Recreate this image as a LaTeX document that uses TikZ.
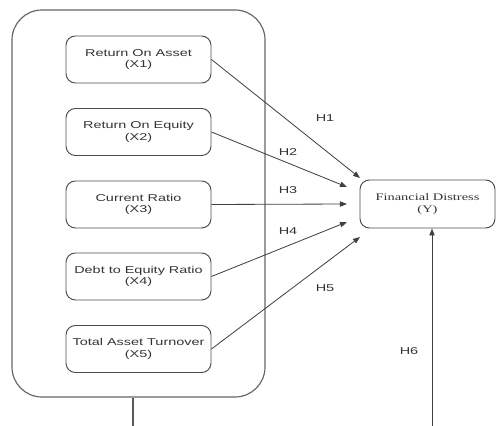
\documentclass[tikz,border=0pt]{standalone}
\usepackage{fontspec}
\setmainfont{Liberation Sans}[FakeStretch=1.45]
\newfontfamily\yfont{Liberation Serif}[FakeStretch=1.45]
\usetikzlibrary{arrows.meta,positioning}

\begin{document}
\begin{tikzpicture}[
      x=0.03cm, y=-0.03cm,
      every node/.style={font=\fontsize{8.5}{10}\selectfont, text=black!80},
      varbox/.style={draw=black!70, line width=0.8pt, rounded corners=8pt, minimum width=4.35cm, minimum height=1.41cm, align=center, inner sep=1pt},
      groupbox/.style={draw=black!60, line width=1pt, rounded corners=0.9cm, minimum width=7.59cm, minimum height=11.61cm},
      hyp/.style={-{Triangle[length=6pt,width=4.5pt]}, draw=black!75, line width=0.7pt}
    ]
    \useasboundingbox (0,0) rectangle (496,426);
    % independent variables
    \node[groupbox] (group) at (138.5,203.5) {};
    \node[varbox] (x1) at (138.5,59.5) {Return On Asset\\(X1)};
    \node[varbox] (x2) at (138.5,132) {Return On Equity\\(X2)};
    \node[varbox] (x3) at (138.5,204.5) {Current Ratio\\(X3)};
    \node[varbox] (x4) at (138.5,276.5) {Debt to Equity Ratio\\(X4)};
    \node[varbox] (x5) at (138.5,349) {Total Asset Turnover\\(X5)};
    % dependent variable
    \node[varbox, minimum width=4.05cm, minimum height=1.44cm, font=\fontsize{8.5}{10}\yfont] (y) at (427.5,204) {Financial Distress\\(Y)};
    \coordinate (t1) at (360,178);
    \coordinate (t2) at (347,187);
    \coordinate (t3) at (347,204);
    \coordinate (t4) at (347,222);
    \coordinate (t5) at (360,237);
    \coordinate (gbot) at (133,426);
    \coordinate (h6s) at (432,426);
    \draw[hyp] (x1.east) -- (t1);
    \draw[hyp] (x2.east) -- (t2);
    \draw[hyp] (x3.east) -- (t3);
    \draw[hyp] (x4.east) -- (t4);
    \draw[hyp] (x5.east) -- (t5);
    \draw[draw=black!65, line width=0.9pt] (group.south -| gbot) -- (gbot);
    \draw[hyp] (h6s) -- (h6s |- y.south);
    \node (h1) at (325,118) {H1};
    \node (h2) at (288,152) {H2};
    \node (h3) at (288,190) {H3};
    \node (h4) at (288,231) {H4};
    \node (h5) at (325,288) {H5};
    \node (h6) at (409,351) {H6};
  \end{tikzpicture}
\end{document}
